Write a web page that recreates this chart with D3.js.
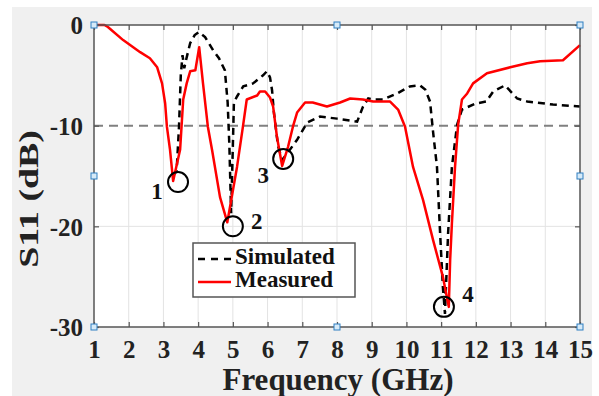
<!DOCTYPE html>
<html>
<head>
<meta charset="utf-8">
<script src="https://cdn.jsdelivr.net/npm/d3@7"></script>
<style>
  body { margin: 0; background: #fff; }
  text { font-family: "Liberation Serif", "Times New Roman", serif; font-weight: bold; }
</style>
</head>
<body>
<div id="chart"></div>
<script>
// Données
const freqMeasured = [1.0, 1.3, 1.4, 1.84, 2.33, 2.61, 2.82, 2.96, 3.05, 3.1, 3.19, 3.28, 3.48, 3.57, 3.67, 3.77, 3.92, 4.03, 4.14, 4.28, 4.4, 4.63, 4.84, 5.12, 5.29, 5.4, 5.7, 5.78, 5.93, 6.07, 6.16, 6.27, 6.42, 6.59, 6.73, 6.85, 7.08, 7.3, 7.71, 8.09, 8.38, 8.75, 9.04, 9.53, 9.76, 9.96, 10.19, 10.48, 10.77, 11.05, 11.22, 11.26, 11.31, 11.4, 11.49, 11.6, 11.75, 11.92, 12.32, 12.99, 13.48, 13.85, 14.51, 15.0];
const s11Measured  = [0, 0, -0.2, -1.5, -2.7, -3.3, -4.2, -5.8, -7.8, -10.1, -12.4, -15.5, -12.4, -7.4, -5.8, -4.6, -4.5, -2.2, -5.8, -10.1, -12.4, -17.1, -19.6, -14.1, -10.1, -7.4, -7.0, -6.6, -6.6, -7.2, -8.1, -11.1, -14.0, -12.1, -10.1, -8.7, -7.7, -7.7, -8.1, -7.7, -7.3, -7.4, -7.6, -7.6, -8.4, -10.1, -14.1, -17.4, -21.4, -25.0, -28.0, -23.3, -19.7, -14.1, -9.9, -7.4, -6.8, -5.8, -4.8, -4.2, -3.8, -3.6, -3.5, -2.0];

const freqSimulated = [3.27, 3.38, 3.45, 3.5, 3.55, 3.6, 3.65, 3.77, 3.9, 4.02, 4.2, 4.43, 4.6, 4.77, 4.85, 4.9, 4.95, 5.0, 5.03, 5.12, 5.3, 5.58, 5.87, 5.98, 6.07, 6.13, 6.18, 6.3, 6.42, 6.6, 6.85, 7.14, 7.51, 8.0, 8.58, 8.75, 8.9, 9.04, 9.33, 9.73, 10.1, 10.39, 10.54, 10.68, 10.77, 10.88, 10.97, 11.05, 11.11, 11.2, 11.31, 11.46, 11.6, 12.0, 12.3, 12.5, 12.84, 13.19, 13.48, 14.22, 15.0];
const s11Simulated  = [-15.0, -14.5, -10, -5, -3.0, -4.3, -3.5, -1.8, -1.0, -0.7, -1.2, -2.5, -3.3, -4.5, -7.7, -12, -18.7, -12, -7.7, -7.1, -6.1, -5.8, -5.0, -4.6, -5.2, -6.5, -8.6, -12, -13.4, -12.6, -11.4, -9.7, -9.1, -9.3, -9.6, -8.1, -7.3, -7.4, -7.4, -6.8, -6.1, -6.0, -6.4, -7.6, -10.7, -14.1, -20.7, -26.0, -28.7, -20.7, -14.1, -9.9, -8.4, -7.8, -7.6, -6.6, -6.0, -7.3, -7.6, -7.9, -8.1];

const xTicks = d3.range(1, 16);
const yTicks = [0, -10, -20, -30];

// Résonances marquées
const markers = [
  { f: 3.42, v: -15.6, label: "1", dx: -21, dy: 12 },
  { f: 5.0, v: -20.0, label: "2", dx: 24, dy: -3 },
  { f: 6.45, v: -13.3, label: "3", dx: -20, dy: 19 },
  { f: 11.08, v: -28.0, label: "4", dx: 24, dy: -10 }
];

const width = 599, height = 396;
const x = d3.scaleLinear().domain([1, 15]).range([94, 580]);
const y = d3.scaleLinear().domain([-30, 0]).range([327, 25]);

const svg = d3.select("#chart").append("svg")
  .attr("width", width)
  .attr("height", height);

// fond de la figure
svg.append("rect").attr("x", 12).attr("y", 7).attr("width", 580).attr("height", 389).attr("fill", "#f0f0f0");

// zone du tracé
svg.append("rect")
  .attr("x", x(1)).attr("y", y(0))
  .attr("width", x(15) - x(1)).attr("height", y(-30) - y(0))
  .attr("fill", "#fff");

// grille
svg.selectAll("line.vgrid").data(xTicks.slice(1, -1)).enter().append("line")
  .attr("x1", d => x(d)).attr("x2", d => x(d))
  .attr("y1", y(0)).attr("y2", y(-30))
  .attr("stroke", "#e3e3e3").attr("stroke-width", 1);
svg.append("line")
  .attr("x1", x(1)).attr("x2", x(15)).attr("y1", y(-20)).attr("y2", y(-20))
  .attr("stroke", "#e3e3e3").attr("stroke-width", 1);

// ligne de référence -10 dB
svg.append("line")
  .attr("x1", x(1)).attr("x2", x(15)).attr("y1", y(-10)).attr("y2", y(-10))
  .attr("stroke", "#808080").attr("stroke-width", 2).attr("stroke-dasharray", "9,6");

// courbes
const line = d3.line().x(d => x(d[0])).y(d => y(d[1]));
svg.append("path")
  .datum(d3.zip(freqSimulated, s11Simulated))
  .attr("d", line).attr("fill", "none")
  .attr("stroke", "#000").attr("stroke-width", 2.5).attr("stroke-dasharray", "7,5");
svg.append("path")
  .datum(d3.zip(freqMeasured, s11Measured))
  .attr("d", line).attr("fill", "none")
  .attr("stroke", "#ff0000").attr("stroke-width", 2.5).attr("stroke-linejoin", "round");

// cercles et numéros
svg.selectAll("circle.mk").data(markers).enter().append("circle")
  .attr("cx", d => x(d.f)).attr("cy", d => y(d.v)).attr("r", 10)
  .attr("fill", "none").attr("stroke", "#000").attr("stroke-width", 2);
svg.selectAll("text.mk").data(markers).enter().append("text")
  .attr("x", d => x(d.f) + d.dx).attr("y", d => y(d.v) + d.dy)
  .attr("text-anchor", "middle").attr("dominant-baseline", "middle")
  .attr("font-size", 23).attr("fill", "#111")
  .text(d => d.label);

// axes
const axisColor = "#555";
svg.append("rect")
  .attr("x", x(1)).attr("y", y(0))
  .attr("width", x(15) - x(1)).attr("height", y(-30) - y(0))
  .attr("fill", "none").attr("stroke", axisColor).attr("stroke-width", 1.5);

const gx = svg.append("g").attr("transform", `translate(0,${y(-30)})`)
  .call(d3.axisBottom(x).tickValues(xTicks).tickSize(-5).tickPadding(11).tickFormat(d3.format("d")));
const gxTop = svg.append("g").attr("transform", `translate(0,${y(0)})`)
  .call(d3.axisTop(x).tickValues(xTicks).tickSize(-5).tickFormat(""));
const gy = svg.append("g").attr("transform", `translate(${x(1)},0)`)
  .call(d3.axisLeft(y).tickValues(yTicks).tickSize(-5).tickPadding(11).tickFormat(d => d));
const gyRight = svg.append("g").attr("transform", `translate(${x(15)},0)`)
  .call(d3.axisRight(y).tickValues(yTicks).tickSize(-5).tickFormat(""));

[gx, gxTop, gy, gyRight].forEach(g => {
  g.select(".domain").remove();
  g.selectAll(".tick line").attr("stroke", axisColor).attr("stroke-width", 1.2);
  g.selectAll("text").attr("fill", "#222").attr("font-size", 25)
    .attr("font-family", '"Liberation Serif", serif').attr("font-weight", "bold");
});
gx.selectAll("text").attr("dy", "0.8em");
gy.selectAll("text").attr("dy", "0.35em");

// titres des axes
svg.append("text")
  .attr("x", 338).attr("y", 390)
  .attr("text-anchor", "middle").attr("font-size", 31).attr("fill", "#222")
  .text("Frequency (GHz)");
svg.append("text")
  .attr("transform", "translate(38,199) rotate(-90) scale(1.4,1)")
  .attr("text-anchor", "middle").attr("font-size", 27).attr("fill", "#222")
  .text("S11 (dB)");

// légende
const legend = svg.append("g").attr("transform", "translate(193,243)");
legend.append("rect").attr("width", 162).attr("height", 54)
  .attr("fill", "#fff").attr("stroke", "#555").attr("stroke-width", 1.5);
legend.append("line").attr("x1", 5).attr("x2", 38).attr("y1", 16).attr("y2", 16)
  .attr("stroke", "#000").attr("stroke-width", 2.5).attr("stroke-dasharray", "7,6");
legend.append("line").attr("x1", 5).attr("x2", 38).attr("y1", 39).attr("y2", 39)
  .attr("stroke", "#ff0000").attr("stroke-width", 2.5);
legend.append("text").attr("x", 42).attr("y", 16).attr("dominant-baseline", "middle")
  .attr("font-size", 23).attr("fill", "#111").text("Simulated");
legend.append("text").attr("x", 42).attr("y", 39).attr("dominant-baseline", "middle")
  .attr("font-size", 23).attr("fill", "#111").text("Measured");

// poignées de sélection
const handles = [[1, 0], [8, 0], [15, 0], [1, -15], [15, -15], [1, -30], [8, -30], [15, -30]];
svg.selectAll("rect.handle").data(handles).enter().append("rect")
  .attr("x", d => x(d[0]) - 3).attr("y", d => y(d[1]) - 3)
  .attr("width", 6).attr("height", 6)
  .attr("fill", "#d6eaf8").attr("stroke", "#2f7fc1").attr("stroke-width", 1);
</script>
</body>
</html>
